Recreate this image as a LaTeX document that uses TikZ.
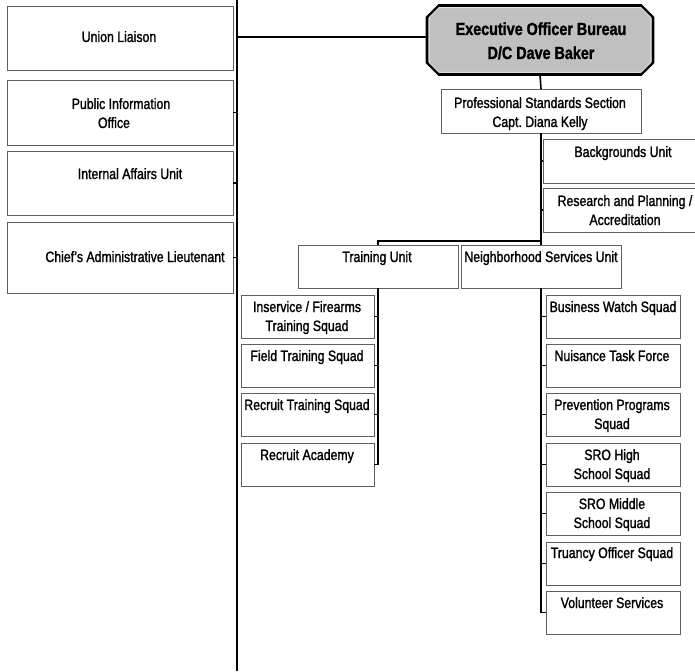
\documentclass[tikz,border=0pt]{standalone}
\usepackage{fontspec}
\setmainfont[FakeStretch=0.82, FakeBold=1.4]{Liberation Sans}
\usetikzlibrary{calc}
\definecolor{execgray}{RGB}{192,192,192}
\definecolor{boxline}{RGB}{95,95,95}
\newcommand\octpath[2]{($(#1.north west)+(12,#2)$) -- ($(#1.north east)+(-12,#2)$) -- ($(#1.north east)+(-#2,12)$) -- ($(#1.south east)+(-#2,-12)$) -- ($(#1.south east)+(-12,-#2)$) -- ($(#1.south west)+(12,-#2)$) -- ($(#1.south west)+(#2,-12)$) -- ($(#1.north west)+(#2,12)$) -- cycle}
\frenchspacing
\begin{document}
\begin{tikzpicture}[x=1pt,y=-1pt,
  unit/.style={draw=boxline, line width=0.9pt, fill=white, anchor=north west, inner sep=0pt, outer sep=0pt},
  txt/.style={anchor=base, inner sep=0pt, align=center, font=\fontsize{15}{19}\selectfont},
  conn/.style={draw=black, line width=1.6pt},
  spine/.style={draw=black, line width=2pt}]
\useasboundingbox (0,0) rectangle (695,671);

% left staff boxes
\node[unit, minimum width=226pt, minimum height=64pt] (ul)  at (7,6) {};
\node[unit, minimum width=226pt, minimum height=65pt] (pio) at (7,80) {};
\node[unit, minimum width=226pt, minimum height=64pt] (ia)  at (7,151) {};
\node[unit, minimum width=226pt, minimum height=71pt] (cal) at (7,222) {};
\node[txt] (ul-t)  at (119,42) {Union Liaison};
\node[txt] (pio-t) at (121,128) {Public Information\\Office\hspace*{14pt}};
\node[txt] (ia-t)  at (130,179) {Internal Affairs Unit};
\node[txt] (cal-t) at (135,262) {Chief's Administrative Lieutenant};

% spine
\coordinate (vtop) at (237,0);
\coordinate (vbot) at (237,671);
\draw[spine] (vtop) -- (vbot);

% executive
\node[minimum width=226pt, minimum height=69pt, inner sep=0pt, outer sep=0pt] (exec) at (540,40) {};
\fill[execgray] \octpath{exec}{0};
\draw[black, line width=2.6pt] \octpath{exec}{0};
\draw[gray!20, line width=0.9pt] \octpath{exec}{2.2};
\node[txt, font=\fontsize{17.5}{24}\selectfont\bfseries] (exec-t) at (541,59) {Executive Officer Bureau\\D/C Dave Baker};

% professional standards
\node[unit, minimum width=200pt, minimum height=44pt] (prof) at (441,89) {};
\node[txt] (prof-t) at (540,127) {Professional Standards Section\\Capt.\ Diana Kelly};
\node[unit, minimum width=155pt, minimum height=44pt] (bg) at (543,139) {};
\node[txt] (bg-t) at (623,157) {Backgrounds Unit};
\node[unit, minimum width=155pt, minimum height=44pt] (rp) at (543,188) {};
\node[txt] (rp-t) at (625,225) {Research and Planning /\\Accreditation};

% units
\node[unit, minimum width=160pt, minimum height=43pt] (tu)  at (298,245) {};
\node[txt] (tu-t) at (377,262) {Training Unit};
\node[unit, minimum width=160pt, minimum height=43pt] (nsu) at (461,245) {};
\node[txt] (nsu-t) at (541,262) {Neighborhood Services Unit};

% training squads
\node[unit, minimum width=133pt, minimum height=43pt] (is)  at (241,295) {};
\node[unit, minimum width=133pt, minimum height=43pt] (fts) at (241,344) {};
\node[unit, minimum width=133pt, minimum height=43pt] (rts) at (241,393) {};
\node[unit, minimum width=133pt, minimum height=43pt] (ra)  at (241,443) {};
\node[txt] (is-t)  at (307,331) {Inservice / Firearms\\Training Squad};
\node[txt] (fts-t) at (307,361) {Field Training Squad};
\node[txt] (rts-t) at (307,410) {Recruit Training Squad};
\node[txt] (ra-t)  at (307,460) {Recruit Academy};

% neighborhood squads
\node[unit, minimum width=134pt, minimum height=43pt] (bw)   at (546,295) {};
\node[unit, minimum width=134pt, minimum height=43pt] (ntf)  at (546,344) {};
\node[unit, minimum width=134pt, minimum height=43pt] (pp)   at (546,393) {};
\node[unit, minimum width=134pt, minimum height=43pt] (sroh) at (546,443) {};
\node[unit, minimum width=134pt, minimum height=43pt] (srom) at (546,492) {};
\node[unit, minimum width=134pt, minimum height=43pt] (tos)  at (546,542) {};
\node[unit, minimum width=134pt, minimum height=43pt] (vs)   at (546,591) {};
\node[txt] (bw-t)   at (613,312) {Business Watch Squad};
\node[txt] (ntf-t)  at (612,361) {Nuisance Task Force};
\node[txt] (pp-t)   at (612,429) {Prevention Programs\\Squad};
\node[txt] (sroh-t) at (612,479) {SRO High\\School Squad};
\node[txt] (srom-t) at (612,528) {SRO Middle\\School Squad};
\node[txt] (tos-t)  at (612,558) {Truancy Officer Squad};
\node[txt] (vs-t)   at (612,608) {Volunteer Services};

% connectors
\draw[conn] ([yshift=3pt]exec.west) -- ([yshift=3pt]exec.west -| vtop);
\draw[conn] (pio.east) -- (pio.east -| vtop);
\draw[conn] (ia.east) -- (ia.east -| vtop);
\draw[conn] (cal.east) -- (cal.east -| vtop);
\draw[conn] (exec.south) -- (prof.north);
\coordinate (bar) at (541,241);
\draw[conn] (prof.south) -- (nsu.north);
\draw[conn] (bar) -| (tu.north);
\draw[conn] (bg.west) -- (bg.west -| prof.south);
\draw[conn] (rp.west) -- (rp.west -| prof.south);
\draw[conn] (tu.south) |- (ra.east);
\draw[conn] (is.east) -- (is.east -| tu.south);
\draw[conn] (fts.east) -- (fts.east -| tu.south);
\draw[conn] (rts.east) -- (rts.east -| tu.south);
\draw[conn] (nsu.south) |- (vs.west);
\foreach \b in {bw,ntf,pp,sroh,srom,tos}
  \draw[conn] (\b.west) -- (\b.west -| nsu.south);
\end{tikzpicture}
\end{document}
